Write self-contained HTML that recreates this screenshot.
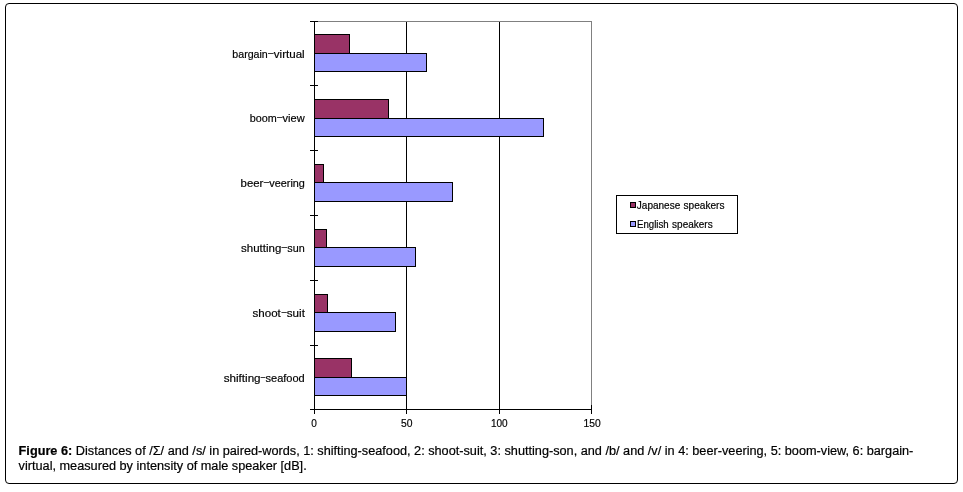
<!DOCTYPE html>
<html lang="en">
<head>
<meta charset="utf-8">
<title>Figure 6</title>
<style>
html,body{margin:0;padding:0;background:#fff;}
body{width:963px;height:492px;position:relative;overflow:hidden;font-family:"Liberation Sans",sans-serif;}
.frame{position:absolute;left:5px;top:3px;width:953px;height:481px;box-sizing:border-box;border:1px solid #000;border-radius:4px;background:#fff;}
svg{position:absolute;left:0;top:0;}
svg text{font-family:"Liberation Sans",sans-serif;font-size:11px;fill:#000;stroke:#000;stroke-width:0.18px;}
svg text.lg{font-size:10.3px;}
svg text.ax{font-size:11.5px;}
.cap{position:absolute;left:18.6px;top:443.2px;width:930px;font-size:12.715px;line-height:15px;color:#000;white-space:nowrap;-webkit-text-stroke:0.2px #000;}
</style>
</head>
<body>
<div class="frame"></div>
<svg width="963" height="492" viewBox="0 0 963 492">
<g shape-rendering="crispEdges" fill="none">
<path d="M314 21.5H591.5V409" stroke="#808080" stroke-width="1"/>
<path d="M406.5 22V409M499.5 22V409" stroke="#000" stroke-width="1"/>
</g>
<g shape-rendering="crispEdges" stroke="#000" stroke-width="1">
<rect x="314.5" y="34.5" width="35" height="19" fill="#993366"/>
<rect x="314.5" y="53.5" width="112" height="18" fill="#9999ff"/>
<rect x="314.5" y="99.5" width="74" height="19" fill="#993366"/>
<rect x="314.5" y="118.5" width="229" height="18" fill="#9999ff"/>
<rect x="314.5" y="164.5" width="9" height="18" fill="#993366"/>
<rect x="314.5" y="182.5" width="138" height="19" fill="#9999ff"/>
<rect x="314.5" y="229.5" width="12" height="18" fill="#993366"/>
<rect x="314.5" y="247.5" width="101" height="19" fill="#9999ff"/>
<rect x="314.5" y="294.5" width="13" height="18" fill="#993366"/>
<rect x="314.5" y="312.5" width="81" height="19" fill="#9999ff"/>
<rect x="314.5" y="358.5" width="37" height="19" fill="#993366"/>
<rect x="314.5" y="377.5" width="92" height="18" fill="#9999ff"/>
</g>
<g shape-rendering="crispEdges" fill="none" stroke="#000" stroke-width="1">
<path d="M314.5 21V414M310 409.5H592"/>
<path d="M310 21.5H318M310 85.5H318M310 150.5H318M310 215.5H318M310 280.5H318M310 345.5H318"/>
<path d="M406.5 405V414M499.5 405V414M591.5 405V414"/>
</g>
<g>
<text y="58.0"><tspan x="232.3" textLength="35.5" lengthAdjust="spacingAndGlyphs">bargain</tspan><tspan x="267.6" dy="-0.8" textLength="6.5" lengthAdjust="spacingAndGlyphs">−</tspan><tspan x="273.8" dy="0.8" textLength="30.9" lengthAdjust="spacingAndGlyphs">virtual</tspan></text>
<text y="122.0"><tspan x="249.7" textLength="27.0" lengthAdjust="spacingAndGlyphs">boom</tspan><tspan x="276.4" dy="-0.8" textLength="6.5" lengthAdjust="spacingAndGlyphs">−</tspan><tspan x="282.6" dy="0.8" textLength="22.1" lengthAdjust="spacingAndGlyphs">view</tspan></text>
<text y="187.0"><tspan x="240.6" textLength="22.8" lengthAdjust="spacingAndGlyphs">beer</tspan><tspan x="263.2" dy="-0.8" textLength="6.4" lengthAdjust="spacingAndGlyphs">−</tspan><tspan x="269.3" dy="0.8" textLength="35.6" lengthAdjust="spacingAndGlyphs">veering</tspan></text>
<text y="252.0"><tspan x="241.1" textLength="40.2" lengthAdjust="spacingAndGlyphs">shutting</tspan><tspan x="281.1" dy="-0.8" textLength="6.5" lengthAdjust="spacingAndGlyphs">−</tspan><tspan x="287.3" dy="0.8" textLength="17.4" lengthAdjust="spacingAndGlyphs">sun</tspan></text>
<text y="317.0"><tspan x="252.5" textLength="28.3" lengthAdjust="spacingAndGlyphs">shoot</tspan><tspan x="280.9" dy="-0.8" textLength="6.2" lengthAdjust="spacingAndGlyphs">−</tspan><tspan x="286.8" dy="0.8" textLength="18.1" lengthAdjust="spacingAndGlyphs">suit</tspan></text>
<text y="382.0"><tspan x="223.7" textLength="36.9" lengthAdjust="spacingAndGlyphs">shifting</tspan><tspan x="260.3" dy="-0.8" textLength="5.5" lengthAdjust="spacingAndGlyphs">−</tspan><tspan x="265.5" dy="0.8" textLength="39.2" lengthAdjust="spacingAndGlyphs">seafood</tspan></text>
<text class="ax" x="311.3" y="427" textLength="5.6" lengthAdjust="spacingAndGlyphs">0</text>
<text class="ax" x="400.9" y="427" textLength="11.5" lengthAdjust="spacingAndGlyphs">50</text>
<text class="ax" x="490.9" y="427" textLength="16.7" lengthAdjust="spacingAndGlyphs">100</text>
<text class="ax" x="583.5" y="427" textLength="17.2" lengthAdjust="spacingAndGlyphs">150</text>
</g>
<g shape-rendering="crispEdges" stroke="#000" stroke-width="1">
<rect x="616.5" y="195.5" width="121" height="38" fill="#fff"/>
<rect x="630.5" y="202.5" width="5" height="5" fill="#993366"/>
<rect x="630.5" y="221.5" width="5" height="5" fill="#9999ff"/>
</g>
<text class="lg" y="209"><tspan x="636.8" textLength="43.5" lengthAdjust="spacingAndGlyphs">Japanese</tspan> <tspan x="683.5" textLength="41.0" lengthAdjust="spacingAndGlyphs">speakers</tspan></text>
<text class="lg" y="228"><tspan x="637.0" textLength="31.7" lengthAdjust="spacingAndGlyphs">English</tspan> <tspan x="672.1" textLength="40.6" lengthAdjust="spacingAndGlyphs">speakers</tspan></text>
</svg>
<div class="cap"><b>Figure 6:</b> Distances of /Σ/ and /s/ in paired-words, 1: shifting-seafood, 2: shoot-suit, 3: shutting-son, and /b/ and /v/ in 4: beer-veering, 5: boom-view, 6: bargain-<br>virtual, measured by intensity of male speaker [dB].</div>
</body>
</html>
